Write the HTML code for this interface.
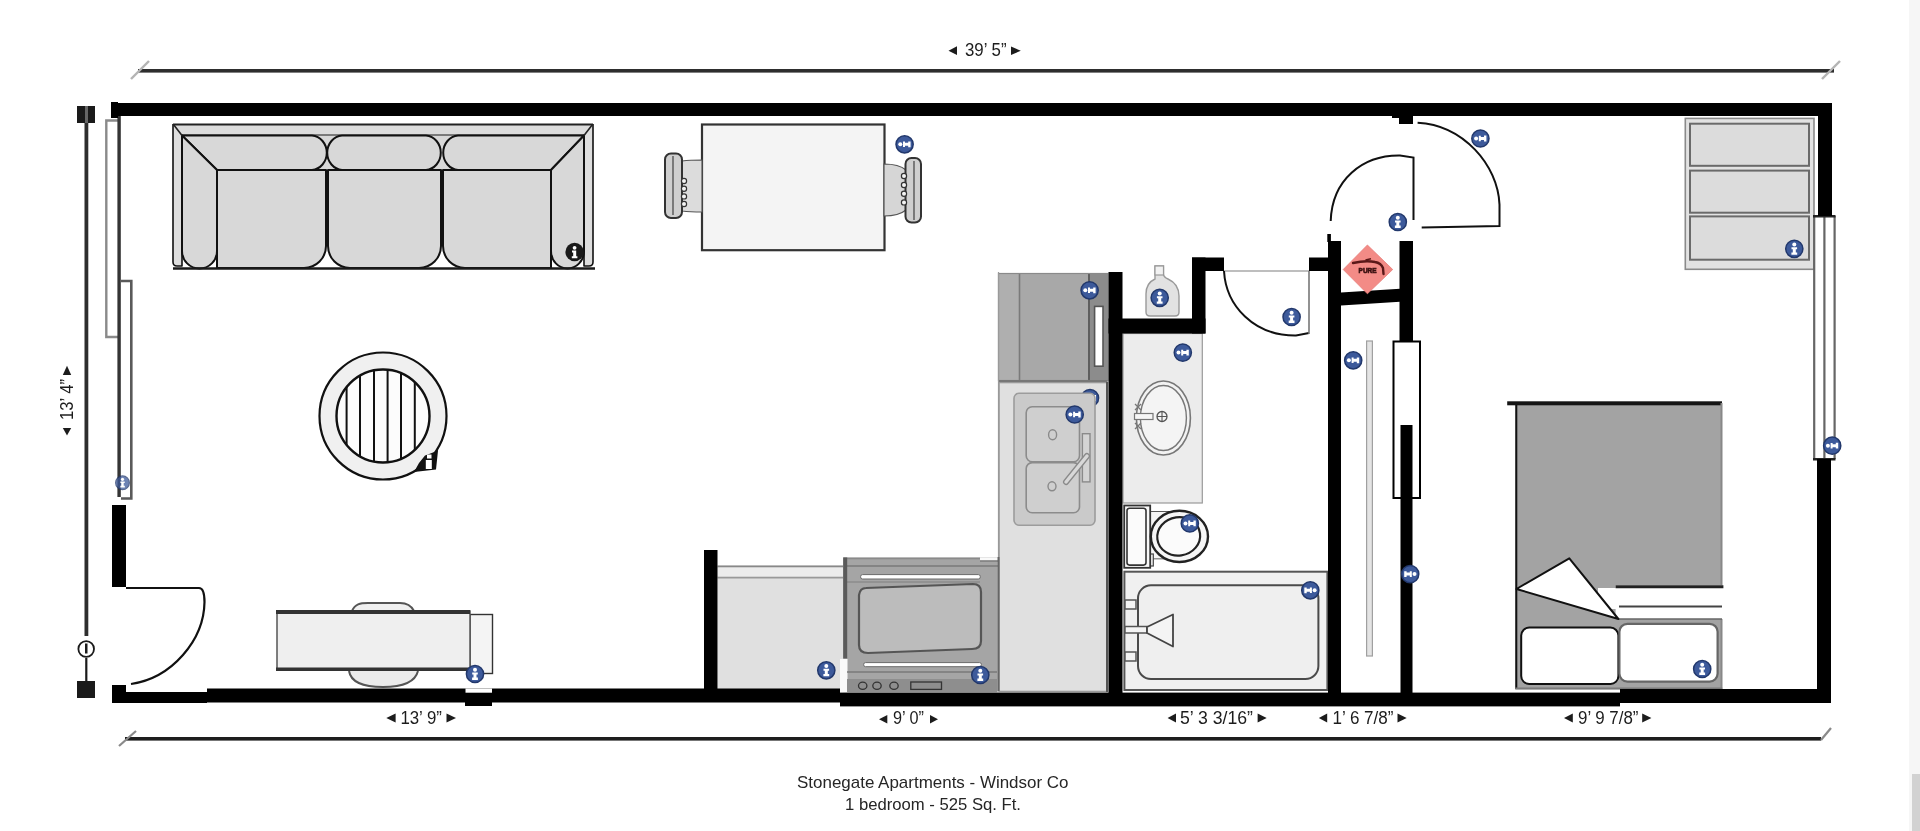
<!DOCTYPE html>
<html><head><meta charset="utf-8"><title>Floor plan</title>
<style>
html,body{margin:0;padding:0;background:#fff;width:1920px;height:831px;overflow:hidden}
svg{display:block;position:absolute;left:0;top:0;will-change:transform}
text{font-family:"Liberation Sans",sans-serif}
</style></head><body>
<svg width="1920" height="831" viewBox="0 0 1920 831">
<defs>
<g id="inf"><circle r="8.6" fill="#3d5a9b" stroke="#22386c" stroke-width="1.5"/><circle cx="0" cy="-4.3" r="2" fill="#fff"/><path d="M-2.8,-1.6 H2.8 V0.4 H1.5 V3.6 H2.9 V6 H-2.9 V3.6 H-1.5 V0.4 H-2.8 Z" fill="#fff"/></g>
<g id="infr" transform="rotate(-90)"><use href="#inf"/></g>
<g id="infl" transform="rotate(90)"><use href="#inf"/></g>
<g id="infk"><circle r="9.2" fill="#1a1a1a"/><circle cx="0" cy="-4.2" r="1.9" fill="#fff"/><path d="M-2.6,-1.4 H1.6 V4.2 H2.8 V6.2 H-2.8 V4.2 H-1.4 V0.6 H-2.6 Z" fill="#fff"/></g>
</defs>

<!-- right edge faint strip -->
<rect x="1909" y="0" width="11" height="831" fill="#f6f6f6"/>
<rect x="1912" y="774" width="8" height="57" fill="#d2d2d2"/>

<!-- ===== DIMENSION LINES ===== -->
<g id="dims">
<rect x="138" y="69" width="1696" height="3.6" fill="#2e2e2e"/>
<line x1="131" y1="79" x2="149" y2="61" stroke="#b4b4b4" stroke-width="2.4"/>
<line x1="1822" y1="79" x2="1840" y2="61" stroke="#b4b4b4" stroke-width="2.4"/>
<rect x="125" y="737" width="1696" height="3.6" fill="#1e1e1e"/>
<line x1="119" y1="746" x2="136" y2="731" stroke="#8a8a8a" stroke-width="2.2"/>
<line x1="1821" y1="740" x2="1831" y2="728" stroke="#8a8a8a" stroke-width="2.2"/>
<!-- vertical left -->
<rect x="84.5" y="106" width="3.8" height="530" fill="#2e2e2e"/>
<rect x="77" y="106" width="18" height="17" fill="#1a1a1a"/>
<rect x="85" y="106" width="3" height="17" fill="#666"/>
<rect x="85.2" y="658" width="2.2" height="24" fill="#1a1a1a"/>
<circle cx="86.2" cy="649" r="7.8" fill="#fff" stroke="#1a1a1a" stroke-width="1.8"/>
<rect x="85" y="643.5" width="2.5" height="10" fill="#1a1a1a"/>
<rect x="77" y="681" width="18" height="17" fill="#1a1a1a"/>
</g>

<!-- ===== TEXT ===== -->
<g id="labels" fill="#1c1c1c">
<path d="M948.5,50.7 L957,46.3 L957,55 Z"/>
<text x="965" y="56" font-size="18" textLength="41.5" lengthAdjust="spacingAndGlyphs">39’ 5”</text>
<path d="M1020.8,50.8 L1011,46.6 L1011,55 Z"/>

<path d="M386.3,718 L395.6,713.6 L395.6,722.4 Z"/>
<text x="400.4" y="724.2" font-size="18" textLength="41.5" lengthAdjust="spacingAndGlyphs">13’ 9”</text>
<path d="M456,718 L446.5,713.6 L446.5,722.4 Z"/>

<path d="M879,719.2 L887.3,715 L887.3,723.4 Z"/>
<text x="893" y="724.2" font-size="18" textLength="31" lengthAdjust="spacingAndGlyphs">9’ 0”</text>
<path d="M938,719.2 L930,715 L930,723.4 Z"/>

<path d="M1167.6,718 L1176,713.6 L1176,722.4 Z"/>
<text x="1180" y="724.2" font-size="18" textLength="73" lengthAdjust="spacingAndGlyphs">5’ 3 3/16”</text>
<path d="M1266.7,718 L1257.6,713.6 L1257.6,722.4 Z"/>

<path d="M1318.8,718 L1327.2,713.6 L1327.2,722.4 Z"/>
<text x="1332.5" y="724.2" font-size="18" textLength="61" lengthAdjust="spacingAndGlyphs">1’ 6 7/8”</text>
<path d="M1406.7,718 L1397.5,713.6 L1397.5,722.4 Z"/>

<path d="M1564,718 L1572.8,713.6 L1572.8,722.4 Z"/>
<text x="1578" y="724.4" font-size="18" textLength="60.5" lengthAdjust="spacingAndGlyphs">9’ 9 7/8”</text>
<path d="M1651.4,718 L1642.2,713.6 L1642.2,722.4 Z"/>

<!-- vertical 13' 4" -->
<path d="M67,365.8 L62.8,375 L71.2,375 Z"/>
<text transform="translate(73.3,420) rotate(-90)" font-size="18" textLength="41" lengthAdjust="spacingAndGlyphs">13’ 4”</text>
<path d="M67,435.6 L62.8,428 L71.2,428 Z"/>

<text x="797" y="788" font-size="17" fill="#262626" textLength="271.5" lengthAdjust="spacingAndGlyphs">Stonegate Apartments - Windsor Co</text>
<text x="845" y="810" font-size="17" fill="#262626" textLength="176" lengthAdjust="spacingAndGlyphs">1 bedroom - 525 Sq. Ft.</text>
</g>


<!-- ===== LEFT WINDOW ===== -->
<g id="lwin">
<path d="M118,120.5 H106.3 V337 H118" fill="none" stroke="#8a8a8a" stroke-width="2.4"/>
<rect x="117.4" y="103" width="3.4" height="394" fill="#343434"/>
<path d="M121,281 H131.3 V498.5 H121" fill="none" stroke="#5a5a5a" stroke-width="2.6"/>
<rect x="111" y="102" width="7" height="16" fill="#000"/>
</g>

<!-- ===== LEFT DOOR ===== -->
<path d="M126,588 H199 C203,588 204.5,592 204.5,602 C204,640 172,678 131,684" fill="none" stroke="#111" stroke-width="2.2"/>

<!-- ===== SOFA ===== -->
<g id="sofa" stroke="#111" stroke-width="2" stroke-linejoin="round">
<rect x="173" y="124" width="420" height="11.5" fill="#dcdcdc" stroke="none"/>
<line x1="173" y1="124.5" x2="593" y2="124.5" stroke="#222" stroke-width="2.2"/>
<line x1="182" y1="135.5" x2="584" y2="135.5" stroke="#1a1a1a" stroke-width="2"/>
<path d="M173,124 V262 Q173,266 177,266 H182 V135.5" fill="#dedede" stroke-width="1.6"/>
<path d="M593,124 V262 Q593,266 589,266 H584 V135.5" fill="#dedede" stroke-width="1.6"/>
<!-- back cushions -->
<rect x="182" y="135.5" width="402" height="34.5" fill="#d8d8d8" stroke="none"/>
<path d="M182,135.5 H312 A16,17.3 0 0 1 312,170 H217 Z" fill="#d8d8d8"/>
<path d="M342,135.5 H426 A16,17.3 0 0 1 426,170 H342 A16,17.3 0 0 1 342,135.5 Z" fill="#d8d8d8"/>
<path d="M584,135.5 H458 A16,17.3 0 0 0 458,170 H551 Z" fill="#d8d8d8"/>
<!-- arms -->
<path d="M182,135.5 L217,170 V251 A17.5,17.5 0 0 1 182,251 Z" fill="#d8d8d8"/>
<path d="M584,135.5 L551,170 V251 A16.5,17.5 0 0 0 584,251 Z" fill="#d8d8d8"/>
<!-- seats -->
<path d="M217,170 H326 V246 A22,22 0 0 1 304,268 H217 Z" fill="#d8d8d8"/>
<path d="M328,170 H441 V246 A22,22 0 0 1 419,268 H350 A22,22 0 0 1 328,246 Z" fill="#d8d8d8"/>
<path d="M443,170 H551 V268 H465 A22,22 0 0 1 443,246 Z" fill="#d8d8d8"/>
<line x1="173" y1="268.5" x2="595" y2="268.5" stroke="#1a1a1a" stroke-width="2.6"/>
<path d="M173.5,124.5 L182,135.5 M592.5,124.5 L584,135.5" stroke="#222" stroke-width="1.6"/>
</g>

<!-- ===== COFFEE TABLE ===== -->
<g id="ctable">
<circle cx="383" cy="416" r="63.5" fill="#f0f0f0" stroke="#111" stroke-width="2.2"/>
<clipPath id="cclip"><circle cx="383" cy="416" r="46.5"/></clipPath>
<circle cx="383" cy="416" r="46.5" fill="#fcfcfc"/>
<g clip-path="url(#cclip)" stroke="#111" stroke-width="2">
<line x1="346.6" y1="360" x2="346.6" y2="470"/>
<line x1="360" y1="360" x2="360" y2="470"/>
<line x1="374" y1="360" x2="374" y2="470"/>
<line x1="387.6" y1="360" x2="387.6" y2="470"/>
<line x1="401" y1="360" x2="401" y2="470"/>
<line x1="414.8" y1="360" x2="414.8" y2="470"/>
</g>
<circle cx="383" cy="416" r="46.5" fill="none" stroke="#111" stroke-width="2.4"/>
<path d="M438.5,446 L436,469.5 L414,472 L419,463 L425,455.5 L437,451 Z" fill="#111"/>
<rect x="425.8" y="460" width="6" height="9" fill="#fff"/>
<rect x="427" y="454.5" width="4.5" height="4" fill="#fff"/>
</g>

<!-- ===== DINING TABLE ===== -->
<g id="dtable">
<rect x="702" y="124.5" width="182.5" height="125.7" fill="#f4f4f4" stroke="#333" stroke-width="2.2"/>
<path d="M682,161 C690,160 697,160 702,160 V212 C697,212 690,212 682,211 Z" fill="#dcdcdc" stroke="#555" stroke-width="1.2"/>
<rect x="665" y="153.5" width="17" height="64.5" rx="6" fill="#cfcfcf" stroke="#333" stroke-width="2"/>
<line x1="673" y1="156" x2="673" y2="215" stroke="#555" stroke-width="1.4"/>
<path d="M884,164 C893,164 900,165 906,170 V210 C900,215 893,216 884,216 Z" fill="#d6d6d6" stroke="#555" stroke-width="1.2"/>
<rect x="905.5" y="158" width="15.5" height="64.5" rx="6" fill="#cfcfcf" stroke="#333" stroke-width="2"/>
<line x1="914" y1="161" x2="914" y2="220" stroke="#555" stroke-width="1.4"/>
<g fill="#f4f4f4" stroke="#333" stroke-width="1.2">
<circle cx="684" cy="181" r="2.6"/><circle cx="684" cy="188.7" r="2.6"/><circle cx="684" cy="196.4" r="2.6"/><circle cx="684" cy="204" r="2.6"/>
<circle cx="904" cy="176" r="2.6"/><circle cx="904" cy="185" r="2.6"/><circle cx="904" cy="193.8" r="2.6"/><circle cx="904" cy="202.4" r="2.6"/>
</g>
</g>

<!-- ===== DESK ===== -->
<g id="desk">
<path d="M352,611 C355,604 360,603 368,603 H400 C407,603 411,605 414,611" fill="#f0f0f0" stroke="#555" stroke-width="2"/>
<path d="M349,671 C351,683 364,687 383,687 C402,687 415,683 418,671" fill="#ececec" stroke="#555" stroke-width="2"/>
<rect x="470" y="614.5" width="22.5" height="59" fill="#f4f4f4" stroke="#333" stroke-width="1.4"/>
<rect x="277" y="611" width="193" height="59" fill="#efefef" stroke="#555" stroke-width="1.5"/>
<rect x="276" y="610" width="194" height="4" fill="#333"/>
<rect x="276" y="667.5" width="194" height="3.5" fill="#333"/>
</g>


<!-- ===== KITCHEN ===== -->
<g id="kitchen">
<!-- fridge -->
<rect x="998.5" y="273.5" width="109.5" height="107" fill="#a8a8a8"/>
<rect x="998.5" y="273.5" width="21" height="107" fill="#afafaf"/>
<line x1="1019.5" y1="273.5" x2="1019.5" y2="380.5" stroke="#7a7a7a" stroke-width="1.6"/>
<rect x="1088" y="273.5" width="20" height="107" fill="#8c8c8c"/>
<line x1="1089" y1="273.5" x2="1089" y2="380.5" stroke="#5e5e5e" stroke-width="2"/>
<rect x="1094.6" y="306.4" width="8.4" height="59.8" fill="#fff" stroke="#555" stroke-width="1.6"/>
<rect x="998.5" y="273.5" width="109.5" height="107" fill="none" stroke="#8a8a8a" stroke-width="1.2"/>
<line x1="998.5" y1="272" x2="998.5" y2="560" stroke="#9a9a9a" stroke-width="1.2"/>
<!-- counter -->
<rect x="999" y="382.5" width="108.5" height="309" fill="#e0e0e0" stroke="#9a9a9a" stroke-width="1.6"/>
<line x1="1107" y1="382" x2="1107" y2="692" stroke="#555" stroke-width="2"/>
<line x1="999" y1="381" x2="1107.5" y2="381" stroke="#777" stroke-width="2"/>
<!-- sink -->
<use href="#infr" x="1090" y="398"/>
<rect x="1014" y="393.3" width="81" height="131.9" rx="5" fill="#cacaca" stroke="#9c9c9c" stroke-width="1.6"/>
<rect x="1026.2" y="406.8" width="53.3" height="54.9" rx="6" fill="#cfcfcf" stroke="#8c8c8c" stroke-width="1.6"/>
<rect x="1026.2" y="462.6" width="53.3" height="50.1" rx="6" fill="#cfcfcf" stroke="#8c8c8c" stroke-width="1.6"/>
<ellipse cx="1052.6" cy="434.7" rx="4" ry="5" fill="none" stroke="#8a8a8a" stroke-width="1.4"/>
<ellipse cx="1052" cy="486.3" rx="4" ry="4.5" fill="none" stroke="#8a8a8a" stroke-width="1.4"/>
<rect x="1082.4" y="433.7" width="7.6" height="48.2" fill="#d4d4d4" stroke="#8a8a8a" stroke-width="1.4"/>
<path d="M1066,482 L1087,456" stroke="#8a8a8a" stroke-width="6" stroke-linecap="round"/>
<path d="M1066,482 L1087,456" stroke="#d8d8d8" stroke-width="3.4" stroke-linecap="round"/>
<!-- dishwasher / counter left of stove -->
<rect x="717.5" y="565.5" width="126" height="124" fill="#e0e0e0"/>
<line x1="717.5" y1="566.5" x2="843" y2="566.5" stroke="#888" stroke-width="2"/>
<line x1="717.5" y1="577.5" x2="843" y2="577.5" stroke="#999" stroke-width="1.8"/>
<rect x="717.5" y="567.5" width="126" height="9" fill="#ececec"/>
<!-- stove -->
<rect x="843.2" y="557.4" width="154.5" height="135" fill="#a5a5a5"/>
<rect x="980" y="557.4" width="18" height="4" fill="#fafafa"/>
<line x1="847" y1="558.5" x2="980" y2="558.5" stroke="#8a8a8a" stroke-width="1.6"/>
<line x1="847" y1="566" x2="998" y2="566" stroke="#7a7a7a" stroke-width="1.6"/>
<line x1="847" y1="582" x2="980" y2="582" stroke="#8c8c8c" stroke-width="1.4"/>
<line x1="980" y1="561" x2="998" y2="561" stroke="#6a6a6a" stroke-width="1.4"/>
<rect x="843.2" y="557.4" width="4" height="101" fill="#5a5a5a"/>
<rect x="840" y="659" width="7.5" height="33.6" fill="#fafafa"/>
<rect x="860.6" y="574.6" width="119.7" height="4.4" rx="2" fill="#fff" stroke="#6a6a6a" stroke-width="1"/>
<path d="M866,588 Q860,588 859,595 V645 Q859,653 868,653 L972,649 Q981,649 981,641 V592 Q981,584 973,584 Z" fill="#bcbcbc" stroke="#555" stroke-width="2.2"/>
<rect x="863.7" y="662.6" width="117.7" height="4.1" rx="1.8" fill="#fff" stroke="#6a6a6a" stroke-width="1"/>
<line x1="847" y1="672" x2="997" y2="672" stroke="#7a7a7a" stroke-width="1.4"/>
<rect x="847" y="679" width="150" height="13" fill="#8e8e8e"/>
<ellipse cx="862.7" cy="685.7" rx="4.2" ry="3.6" fill="none" stroke="#333" stroke-width="1.3"/>
<ellipse cx="877" cy="685.7" rx="4.2" ry="3.6" fill="none" stroke="#333" stroke-width="1.3"/>
<ellipse cx="894" cy="685.7" rx="4.2" ry="3.6" fill="none" stroke="#333" stroke-width="1.3"/>
<rect x="910.8" y="682" width="30.7" height="7.4" fill="none" stroke="#333" stroke-width="1.3"/>
<line x1="998.5" y1="557" x2="998.5" y2="691" stroke="#666" stroke-width="2"/>
</g>

<!-- ===== BATHROOM ===== -->
<g id="bath">
<!-- bottle -->
<path d="M1155,266 H1163.5 V274 Q1163.5,277 1168,279 Q1179,284 1179,296 V312 Q1179,316 1175,316 H1150 Q1146,316 1146,312 V294 Q1146,283 1155,279 Z" fill="#e2e2e2" stroke="#9a9a9a" stroke-width="1.4"/>
<rect x="1155" y="266" width="8.5" height="9" fill="#f2f2f2" stroke="#999" stroke-width="1.2"/>
<!-- door -->
<line x1="1224" y1="271" x2="1309" y2="271" stroke="#a8a8a8" stroke-width="1.6"/>
<path d="M1224,271 C1226,306 1254,336 1296,335.5 L1309,333" fill="none" stroke="#111" stroke-width="2"/>
<line x1="1309" y1="271" x2="1309" y2="334" stroke="#777" stroke-width="1.6"/>
<!-- vanity -->
<rect x="1123" y="333.5" width="79.3" height="169.5" fill="#ececec" stroke="#9a9a9a" stroke-width="1.2"/>
<ellipse cx="1163.4" cy="418" rx="27" ry="37" fill="#f2f2f2" stroke="#777" stroke-width="1.6"/>
<ellipse cx="1163.4" cy="418" rx="23" ry="32.5" fill="#f4f4f4" stroke="#777" stroke-width="1.4"/>
<circle cx="1162" cy="416.5" r="5" fill="none" stroke="#555" stroke-width="1.3"/>
<path d="M1157,416.5 H1167 M1162,411.5 V421.5" stroke="#555" stroke-width="1.1"/>
<rect x="1134.5" y="413.5" width="18.5" height="6" fill="#f6f6f6" stroke="#777" stroke-width="1.2"/>
<path d="M1135,404 L1141,410 M1141,404 L1135,410 M1135,423 L1141,429 M1141,423 L1135,429" stroke="#777" stroke-width="1.3"/>
<!-- toilet -->
<path d="M1150,511.8 H1170 M1150,558.5 H1170" stroke="#333" stroke-width="1.6"/>
<rect x="1150.3" y="511.8" width="18" height="46.7" fill="#f6f6f6"/>
<rect x="1150.3" y="554" width="3" height="12" fill="#f4f4f4" stroke="#444" stroke-width="1.2"/>
<rect x="1124.2" y="505.5" width="26" height="62.3" fill="#f8f8f8" stroke="#333" stroke-width="1.8"/>
<rect x="1127" y="508.3" width="19" height="56.8" rx="2.5" fill="#fbfbfb" stroke="#333" stroke-width="1.6"/>
<ellipse cx="1179.4" cy="536.4" rx="28.6" ry="25.6" fill="#f6f6f6" stroke="#222" stroke-width="2.4"/>
<ellipse cx="1178.7" cy="536.3" rx="21.5" ry="19.2" fill="#fbfbfb" stroke="#222" stroke-width="2.2" transform="rotate(-8 1178.7 536.3)"/>
<!-- tub -->
<rect x="1124.4" y="571.7" width="203" height="118.3" fill="#f0f0f0" stroke="#555" stroke-width="2"/>
<rect x="1138" y="585.3" width="180.4" height="93.7" rx="13" fill="#efefef" stroke="#4a4a4a" stroke-width="2"/>
<rect x="1125" y="600" width="11" height="9" fill="#f4f4f4" stroke="#555" stroke-width="1.5"/>
<rect x="1125" y="652" width="11" height="9" fill="#f4f4f4" stroke="#555" stroke-width="1.5"/>
<rect x="1125" y="626.5" width="22" height="6.5" fill="#f4f4f4" stroke="#555" stroke-width="1.5"/>
<path d="M1147,627 L1173,614.5 V646.5 L1147,633 Z" fill="#f4f4f4" stroke="#444" stroke-width="1.8" stroke-linejoin="round"/>
</g>

<!-- ===== HALL ===== -->
<g id="hall">
<rect x="1366.6" y="341" width="5.8" height="315" fill="#e4e4e4" stroke="#a0a0a0" stroke-width="1.2"/>
<rect x="1393.5" y="341.5" width="26.5" height="156.5" fill="#fff" stroke="#000" stroke-width="2"/>
<!-- doors -->
<path d="M1417.6,122.7 C1463,125 1498,165 1499.5,204.6 V226 L1421.7,227.5" fill="none" stroke="#111" stroke-width="2"/>
<path d="M1330.7,221 C1332,180 1362,155 1400,155.5 L1413.5,157.5 V220" fill="none" stroke="#111" stroke-width="2"/>
</g>

<!-- ===== BEDROOM ===== -->
<g id="bed">
<!-- dresser -->
<rect x="1685.3" y="118.4" width="128.7" height="150.9" fill="#e2e2e2" stroke="#8a8a8a" stroke-width="1.6"/>
<rect x="1690" y="123.7" width="119" height="42.1" fill="#dcdcdc" stroke="#6a6a6a" stroke-width="2"/>
<rect x="1690" y="170.6" width="119" height="42.1" fill="#dcdcdc" stroke="#6a6a6a" stroke-width="2"/>
<rect x="1690" y="216.4" width="119" height="43.3" fill="#dcdcdc" stroke="#6a6a6a" stroke-width="2"/>
<!-- window right -->
<path d="M1814.2,216 V459 M1824.4,216 V459 M1834.6,216 V459" stroke="#666" stroke-width="2.2"/>
<rect x="1813" y="215" width="22.5" height="2.5" fill="#222"/>
<rect x="1813" y="458" width="22.5" height="2.5" fill="#222"/>
<!-- bed -->
<rect x="1515.3" y="403" width="206.7" height="286.3" fill="#a3a3a3"/>
<line x1="1516.3" y1="403" x2="1516.3" y2="689" stroke="#111" stroke-width="2"/>
<rect x="1507.2" y="401.3" width="214.8" height="4" fill="#151515"/>
<rect x="1720.5" y="403" width="2" height="286" fill="#888"/>
<rect x="1515.3" y="687.5" width="207" height="2" fill="#7a7a7a"/>
<rect x="1615.6" y="585.3" width="107.8" height="33.7" fill="#fff"/>
<rect x="1598" y="588" width="18" height="21" fill="#fff"/>
<line x1="1615.6" y1="586.8" x2="1723.4" y2="586.8" stroke="#222" stroke-width="3"/>
<line x1="1619" y1="606.4" x2="1722" y2="606.4" stroke="#444" stroke-width="2"/>
<line x1="1619" y1="619" x2="1722" y2="619" stroke="#666" stroke-width="1.6"/>
<path d="M1516.4,589 L1569.3,558.3 L1618.4,619 Z" fill="#fff" stroke="#111" stroke-width="2" stroke-linejoin="round"/>
<rect x="1521.2" y="627.6" width="97.2" height="56.4" rx="8" fill="#fff" stroke="#111" stroke-width="2"/>
<rect x="1619.4" y="623.8" width="98.2" height="57.8" rx="8" fill="#fff" stroke="#666" stroke-width="2.2"/>
</g>

<!--FURNITURE3-->
<!-- ===== WALLS ===== -->
<g id="walls" fill="#000">
<!-- top -->
<rect x="111" y="103" width="1721" height="13"/>
<rect x="1392" y="116" width="8" height="2"/>
<rect x="1399" y="116" width="14" height="8"/>
<!-- right -->
<rect x="1818" y="103" width="14" height="113"/>
<rect x="1817" y="459" width="14" height="244"/>
<!-- bottom -->
<rect x="112" y="692" width="95" height="11"/>
<rect x="112" y="685" width="14" height="18"/>
<rect x="207" y="688.5" width="633" height="14"/>
<rect x="1620" y="689" width="211" height="14"/>
<rect x="465" y="693" width="27" height="13"/>
<rect x="465.5" y="688.5" width="26.5" height="4.2" fill="#fff"/>
<rect x="840" y="692.6" width="780" height="13.8"/>
<!-- left -->
<rect x="112" y="505" width="14" height="82"/>
<!-- kitchen half wall -->
<rect x="704" y="550" width="13.5" height="150"/>
<!-- bathroom left wall -->
<rect x="1108.5" y="272" width="14" height="430"/>
<rect x="1108.5" y="318.5" width="97" height="15"/>
<rect x="1192" y="257.5" width="13.5" height="76"/>
<rect x="1192" y="257.5" width="32" height="13.5"/>
<rect x="1309" y="257.5" width="19" height="13.5"/>
<!-- hall walls -->
<rect x="1328" y="241" width="13" height="462"/>
<rect x="1327.3" y="234" width="3.6" height="8"/>
<path d="M1341,292.5 L1400,288.8 L1400,301.8 L1341,305.5 Z"/>
<rect x="1399.5" y="241" width="13.5" height="100"/>
<rect x="1400.5" y="425" width="12" height="278"/>
</g>


<!--TOP-->
<g id="diamond">
<path d="M1367.4,245 L1392.7,269.5 L1367.4,293.8 L1343.2,269.5 Z" fill="#f38b86" stroke="#e77c78" stroke-width="0.8"/>
<path d="M1353,263 Q1366,260 1375,262 Q1381,263 1383,268 L1383.5,274" fill="none" stroke="#5a1818" stroke-width="2.4" stroke-linecap="round"/>
<path d="M1365.5,260 L1371,258.8" stroke="#5a1818" stroke-width="1.6"/>
<text x="1358.6" y="273.4" font-size="6.8" font-weight="bold" fill="#3a1010" stroke="#3a1010" stroke-width="0.6" textLength="18" lengthAdjust="spacingAndGlyphs">PURE</text>
</g>
<g id="icons">
<use href="#infk" x="574.6" y="252"/>
<use href="#infr" x="904.6" y="144.3"/>
<use href="#inf" x="475" y="674"/>
<use href="#infr" x="1089.6" y="290.3"/>
<use href="#infr" x="1074.7" y="414.5"/>
<use href="#inf" x="826.3" y="670.3"/>
<use href="#inf" x="980.3" y="675"/>
<use href="#inf" x="1159.7" y="297.8"/>
<use href="#inf" x="1291.6" y="317"/>
<use href="#infr" x="1182.8" y="352.6"/>
<use href="#infr" x="1189.8" y="523.4"/>
<use href="#infl" x="1310.3" y="590.3"/>
<use href="#inf" x="1397.8" y="222"/>
<use href="#infr" x="1480.4" y="138.5"/>
<use href="#infr" x="1353.2" y="360.3"/>
<use href="#infl" x="1410.2" y="574.1"/>
<use href="#inf" x="1794.3" y="248.8"/>
<use href="#infr" x="1832.2" y="445.7"/>
<use href="#inf" x="1702.2" y="669"/>
<g opacity="0.75"><use href="#inf" x="122.5" y="482.8" transform="translate(122.5 482.8) scale(0.8) translate(-122.5 -482.8)"/></g>
</g>

</svg>
</body></html>
